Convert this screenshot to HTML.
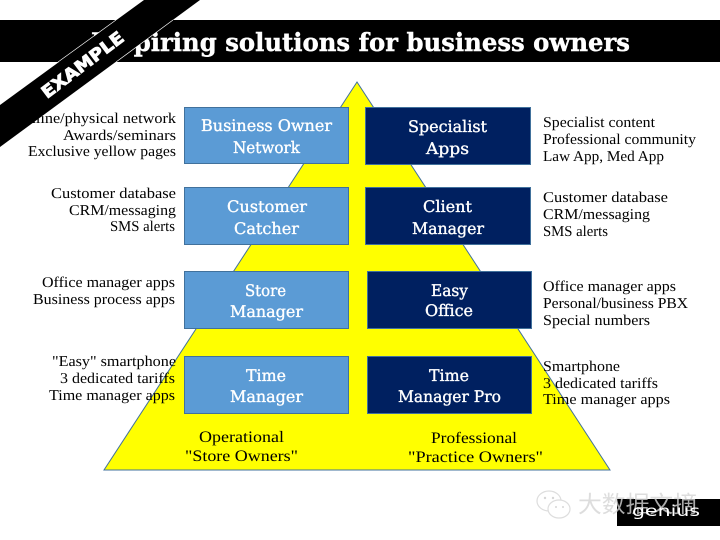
<!DOCTYPE html>
<html><head><meta charset="utf-8"><style>
html,body{margin:0;padding:0;background:#fff}
svg{display:block}
.t{font-family:"Liberation Serif","DejaVu Serif",serif;font-size:15px;fill:#000;text-rendering:geometricPrecision}
.b{font-family:"DejaVu Serif","Liberation Serif",serif;font-size:16px;fill:#fff;stroke:#fff;stroke-width:0.35px;text-rendering:geometricPrecision}
</style></head><body>
<svg width="720" height="540" viewBox="0 0 720 540" xmlns="http://www.w3.org/2000/svg" font-kerning="none">
<rect width="720" height="540" fill="#fff"/>
<rect x="0" y="20" width="720" height="42" fill="#000"/>
<text x="91" y="51" textLength="539" lengthAdjust="spacingAndGlyphs" font-family="'DejaVu Serif',serif" font-weight="700" font-size="25" fill="#fff" stroke="#fff" stroke-width="0.4">Inspiring solutions for business owners</text>
<polygon points="357,82 610,470 104,470" fill="#ffff00" stroke="#41719c" stroke-width="1"/>

<g stroke="#41719c" stroke-width="1">
<rect x="184.5" y="107.5" width="164" height="56" fill="#5b9bd5"/>
<rect x="184.5" y="187.5" width="164" height="57" fill="#5b9bd5"/>
<rect x="184.5" y="271.5" width="164" height="57" fill="#5b9bd5"/>
<rect x="184.5" y="356.5" width="164" height="57" fill="#5b9bd5"/>
<rect x="365.5" y="107.5" width="165" height="57" fill="#002060"/>
<rect x="365.5" y="187.5" width="165" height="57" fill="#002060"/>
<rect x="367.5" y="271.5" width="164" height="57" fill="#002060"/>
<rect x="367.5" y="356.5" width="164" height="57" fill="#002060"/>
</g>

<text class="b" x="201" y="131" textLength="131" lengthAdjust="spacingAndGlyphs">Business Owner</text>
<text class="b" x="233" y="153" textLength="67" lengthAdjust="spacingAndGlyphs">Network</text>
<text class="b" x="227" y="212" textLength="80" lengthAdjust="spacingAndGlyphs">Customer</text>
<text class="b" x="234" y="234" textLength="65" lengthAdjust="spacingAndGlyphs">Catcher</text>
<text class="b" x="245" y="296" textLength="41" lengthAdjust="spacingAndGlyphs">Store</text>
<text class="b" x="230" y="317" textLength="73" lengthAdjust="spacingAndGlyphs">Manager</text>
<text class="b" x="246" y="381" textLength="40" lengthAdjust="spacingAndGlyphs">Time</text>
<text class="b" x="230" y="402" textLength="73" lengthAdjust="spacingAndGlyphs">Manager</text>
<text class="b" x="408" y="132" textLength="79" lengthAdjust="spacingAndGlyphs">Specialist</text>
<text class="b" x="426" y="154" textLength="43" lengthAdjust="spacingAndGlyphs">Apps</text>
<text class="b" x="423" y="212" textLength="49" lengthAdjust="spacingAndGlyphs">Client</text>
<text class="b" x="412" y="234" textLength="72" lengthAdjust="spacingAndGlyphs">Manager</text>
<text class="b" x="431" y="296" textLength="37" lengthAdjust="spacingAndGlyphs">Easy</text>
<text class="b" x="425" y="316" textLength="48" lengthAdjust="spacingAndGlyphs">Office</text>
<text class="b" x="429" y="381" textLength="40" lengthAdjust="spacingAndGlyphs">Time</text>
<text class="b" x="398" y="402" textLength="103" lengthAdjust="spacingAndGlyphs">Manager Pro</text>

<text class="t" x="16" y="123" textLength="160" lengthAdjust="spacingAndGlyphs">Online/physical network</text>
<text class="t" x="63" y="140" textLength="113" lengthAdjust="spacingAndGlyphs">Awards/seminars</text>
<text class="t" x="28" y="156" textLength="148" lengthAdjust="spacingAndGlyphs">Exclusive yellow pages</text>
<text class="t" x="51" y="198" textLength="125" lengthAdjust="spacingAndGlyphs">Customer database</text>
<text class="t" x="69" y="215" textLength="107" lengthAdjust="spacingAndGlyphs">CRM/messaging</text>
<text class="t" x="110" y="231" textLength="65" lengthAdjust="spacingAndGlyphs">SMS alerts</text>
<text class="t" x="42" y="287" textLength="133" lengthAdjust="spacingAndGlyphs">Office manager apps</text>
<text class="t" x="33" y="304" textLength="142" lengthAdjust="spacingAndGlyphs">Business process apps</text>
<text class="t" x="52" y="366" textLength="124" lengthAdjust="spacingAndGlyphs">"Easy" smartphone</text>
<text class="t" x="60" y="383" textLength="115" lengthAdjust="spacingAndGlyphs">3 dedicated tariffs</text>
<text class="t" x="49" y="400" textLength="126" lengthAdjust="spacingAndGlyphs">Time manager apps</text>

<text class="t" x="543" y="127" textLength="112" lengthAdjust="spacingAndGlyphs">Specialist content</text>
<text class="t" x="543" y="144" textLength="153" lengthAdjust="spacingAndGlyphs">Professional community</text>
<text class="t" x="543" y="161" textLength="121" lengthAdjust="spacingAndGlyphs">Law App, Med App</text>
<text class="t" x="543" y="202" textLength="125" lengthAdjust="spacingAndGlyphs">Customer database</text>
<text class="t" x="543" y="219" textLength="107" lengthAdjust="spacingAndGlyphs">CRM/messaging</text>
<text class="t" x="543" y="236" textLength="65" lengthAdjust="spacingAndGlyphs">SMS alerts</text>
<text class="t" x="543" y="291" textLength="133" lengthAdjust="spacingAndGlyphs">Office manager apps</text>
<text class="t" x="543" y="308" textLength="145" lengthAdjust="spacingAndGlyphs">Personal/business PBX</text>
<text class="t" x="543" y="325" textLength="107" lengthAdjust="spacingAndGlyphs">Special numbers</text>
<text class="t" x="543" y="371" textLength="77" lengthAdjust="spacingAndGlyphs">Smartphone</text>
<text class="t" x="543" y="388" textLength="115" lengthAdjust="spacingAndGlyphs">3 dedicated tariffs</text>
<text class="t" x="543" y="404" textLength="127" lengthAdjust="spacingAndGlyphs">Time manager apps</text>

<text class="t" style="font-size:16px" x="199" y="442" textLength="85" lengthAdjust="spacingAndGlyphs">Operational</text>
<text class="t" style="font-size:16px" x="185" y="461" textLength="113" lengthAdjust="spacingAndGlyphs">"Store Owners"</text>
<text class="t" style="font-size:16px" x="431" y="443" textLength="86" lengthAdjust="spacingAndGlyphs">Professional</text>
<text class="t" style="font-size:16px" x="408" y="462" textLength="135" lengthAdjust="spacingAndGlyphs">"Practice Owners"</text>

<polygon points="144,0 200,0 0,147 0,105" fill="#000"/>
<line x1="58" y1="62" x2="116" y2="20" stroke="#fff" stroke-width="0.7"/>
<line x1="116" y1="62" x2="173" y2="20" stroke="#fff" stroke-width="0.7"/>
<text transform="translate(47,99) rotate(-37)" x="0" y="0" textLength="98" lengthAdjust="spacingAndGlyphs" font-family="'DejaVu Sans',sans-serif" font-weight="700" font-size="17" fill="#fff" stroke="#fff" stroke-width="0.9">EXAMPLE</text>

<rect x="617" y="499" width="103" height="27" fill="#000"/>

<g opacity="0.6">
<ellipse cx="549" cy="501" rx="12" ry="10" fill="#fff" stroke="#c8c8c8" stroke-width="1.2"/>
<ellipse cx="559" cy="509" rx="11" ry="9" fill="#fff" stroke="#c8c8c8" stroke-width="1.2"/>
<circle cx="545" cy="498" r="1.2" fill="#bbb"/><circle cx="553" cy="498" r="1.2" fill="#bbb"/>
<circle cx="556" cy="507" r="1" fill="#bbb"/><circle cx="563" cy="507" r="1" fill="#bbb"/>
</g>
<text x="578" y="512" textLength="119" lengthAdjust="spacingAndGlyphs" font-family="'Noto Sans CJK SC','WenQuanYi Zen Hei',sans-serif" font-size="23" fill="#d4d4d4" fill-opacity="0.8">大数据文摘</text>
<text x="632" y="516" textLength="68" lengthAdjust="spacingAndGlyphs" font-family="'DejaVu Sans',sans-serif" font-size="15" fill="#fff">genius</text>
</svg>
</body></html>
